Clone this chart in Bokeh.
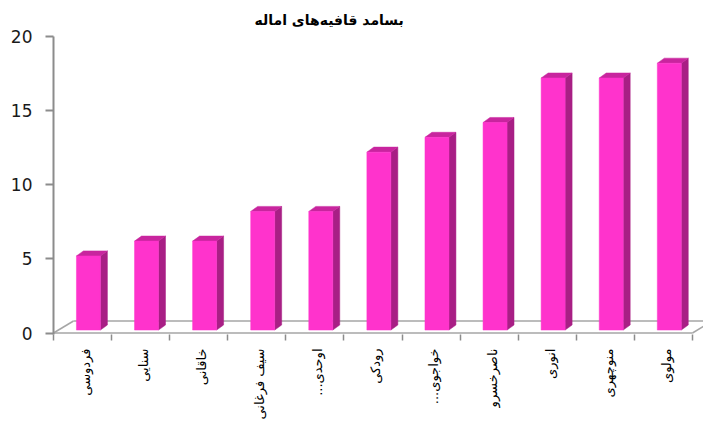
import math
import numpy as np
from bokeh.plotting import figure
from bokeh.models import FixedTicker, Range1d, CustomJSTickFormatter, Title
from bokeh.embed import file_html
from bokeh.resources import INLINE

# ---- data ----
categories = ["فردوسی", "سنایی", "خاقانی", "سیف فرغانی", "اوحدی...\u200f", "رودکی",
              "خواجوی...\u200f", "ناصرخسرو", "انوری", "منوچهری", "مولوی"]
values = [5, 6, 6, 8, 8, 12, 13, 14, 17, 17, 18]
y_ticks = [0, 5, 10, 15, 20]
title_text = "بسامد قافیه‌های اماله"

n = len(categories)

# ---- 3D projection constants (data units) ----
FLOOR_DX, FLOOR_DY = 0.344, 0.81
BAR_OFF, BAR_W = 0.395, 0.413
BAR_BASE = 0.2
BAR_DX, BAR_DY = 0.12, 0.34

FRONT = "#FF33CC"
SIDE = "#A81F85"
TOP = "#C8259E"
GRID = "#A6A6A6"

p = figure(width=703, height=426, output_backend="svg", toolbar_location=None,
           x_range=Range1d(0, 11.19), y_range=Range1d(-0.1, 20),
           min_border_left=53, min_border_right=0, min_border_top=36, min_border_bottom=92)
p.title = Title(text=title_text, align="left", offset=201, standoff=18, text_font="DejaVu Sans",
                text_font_size="14px", text_font_style="bold", text_color="#000000")
p.outline_line_color = None
p.xgrid.visible = False
p.ygrid.visible = False
p.background_fill_color = "white"

# floor
x0 = [0, n]
p.line(x0, [0, 0], line_color=GRID, line_width=1.5)
p.line([v + FLOOR_DX for v in x0], [FLOOR_DY, FLOOR_DY], line_color=GRID, line_width=1.5)
p.line([0, FLOOR_DX], [0, FLOOR_DY], line_color=GRID, line_width=1.5)
p.line([n, n + FLOOR_DX], [0, FLOOR_DY], line_color=GRID, line_width=1.5)

# bars
idx = np.arange(n)
vals = np.array(values, dtype=float)
left = idx + BAR_OFF
right = left + BAR_W
bot = np.full(n, BAR_BASE)
top = vals + BAR_BASE

side_xs = [[r, r + BAR_DX, r + BAR_DX, r] for r in right]
side_ys = [[b, b + BAR_DY, t + BAR_DY, t] for b, t in zip(bot, top)]
top_xs = [[l, r, r + BAR_DX, l + BAR_DX] for l, r in zip(left, right)]
top_ys = [[t, t, t + BAR_DY, t + BAR_DY] for t in top]

p.patches(side_xs, side_ys, fill_color=SIDE, line_color=SIDE, line_width=0.5)
p.patches(top_xs, top_ys, fill_color=TOP, line_color=TOP, line_width=0.5)
p.vbar(x=left + BAR_W / 2, width=BAR_W, bottom=bot, top=top, fill_color=FRONT,
       line_color=FRONT, line_width=0.5)

# y axis
p.yaxis.ticker = FixedTicker(ticks=y_ticks, minor_ticks=[])
p.yaxis.axis_line_color = "#8C8C8C"
p.yaxis.axis_line_width = 2
p.yaxis.major_tick_line_color = "#8C8C8C"
p.yaxis.major_tick_line_width = 2
p.yaxis.major_tick_in = 0
p.yaxis.major_tick_out = 8
p.yaxis.major_label_standoff = 13
p.yaxis.major_label_text_font = "DejaVu Sans"
p.yaxis.major_label_text_font_size = "17px"
p.yaxis.major_label_text_color = "#1a1a1a"

# x axis
p.xaxis.ticker = FixedTicker(ticks=[i + 0.55 for i in range(n)], minor_ticks=list(range(n + 1)))
p.xaxis.formatter = CustomJSTickFormatter(args=dict(labels=categories),
                                          code="return labels[Math.floor(tick)] || '';")
p.xaxis.axis_line_color = None
p.xaxis.major_tick_line_color = None
p.xaxis.minor_tick_line_color = "#8C8C8C"
p.xaxis.minor_tick_line_width = 1.5
p.xaxis.minor_tick_in = 0
p.xaxis.minor_tick_out = 6
p.xaxis.major_label_orientation = math.pi / 2
p.xaxis.major_label_standoff = 8
p.xaxis.major_label_text_font = "DejaVu Sans"
p.xaxis.major_label_text_font_size = "13px"
p.xaxis.major_label_text_color = "#000000"

open("out.html", "w").write(file_html(p, INLINE))
